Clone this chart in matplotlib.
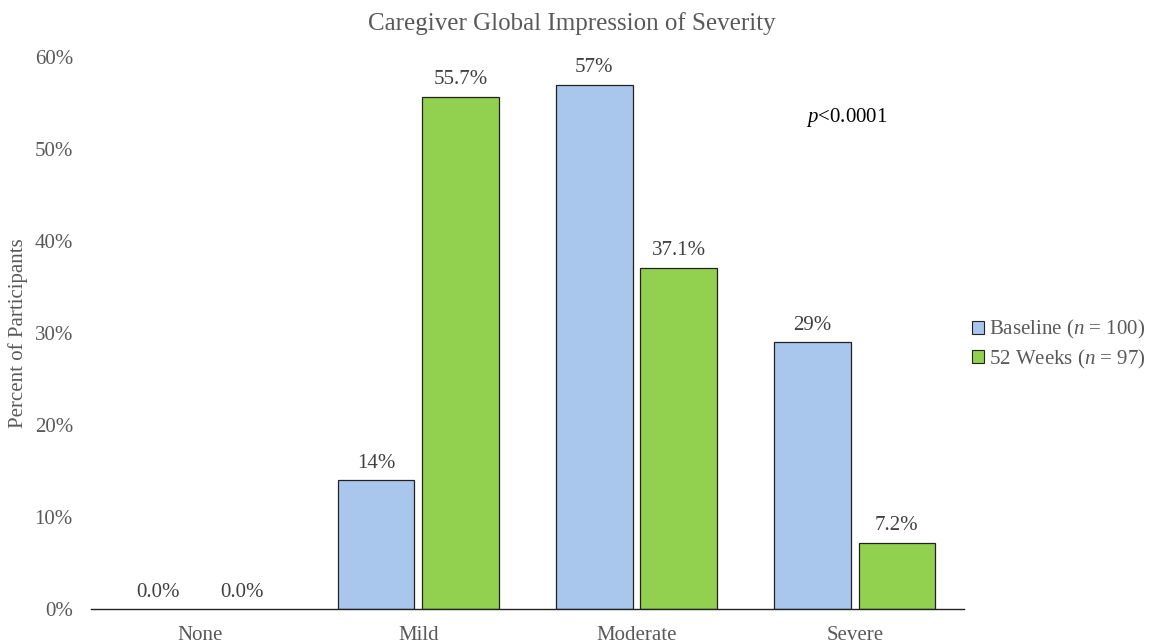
import matplotlib
matplotlib.use("Agg")
import matplotlib.pyplot as plt
import numpy as np
from matplotlib.patches import Patch

categories = ["None", "Mild", "Moderate", "Severe"]
baseline = [0.0, 14, 57, 29]
week52 = [0.0, 55.7, 37.1, 7.2]
baseline_labels = ["0.0%", "14%", "57%", "29%"]
week52_labels = ["0.0%", "55.7%", "37.1%", "7.2%"]
yticks = [0, 10, 20, 30, 40, 50, 60]

plt.rcParams['font.family'] = ['Liberation Serif', 'DejaVu Serif']
plt.rcParams['mathtext.fontset'] = 'custom'
plt.rcParams['mathtext.rm'] = 'Liberation Serif'
plt.rcParams['mathtext.it'] = 'Liberation Serif:italic'

fig = plt.figure(figsize=(11.5, 6.44), dpi=100)
ax = fig.add_axes([0.0791, 0.0543, 0.759, 0.857])

x = np.arange(len(categories))
w = 0.35
off = 0.193
blue = "#A9C6EC"
green = "#92D050"
edge = "#222222"
b1 = ax.bar(x - off, baseline, w, color=blue, edgecolor=edge,
            linewidth=[0 if v == 0 else 0.9 for v in baseline])
b2 = ax.bar(x + off, week52, w, color=green, edgecolor=edge,
            linewidth=[0 if v == 0 else 0.9 for v in week52])

lab_color = "#404040"
for xi, v, t in zip(x - off, baseline, baseline_labels):
    ax.text(xi, v + 0.8, t, ha="center", va="bottom", fontsize=15, color=lab_color)
for xi, v, t in zip(x + off, week52, week52_labels):
    ax.text(xi, v + 0.8, t, ha="center", va="bottom", fontsize=15, color=lab_color)

ax.set_xlim(-0.5, 3.5)
ax.set_ylim(0, 60)
ax.set_yticks(yticks)
ax.set_yticklabels([f"{t}%" for t in yticks])
ax.set_xticks(x)
ax.set_xticklabels(categories)
ax.tick_params(axis="both", length=0, labelsize=15, colors="#595959")
ax.tick_params(axis="x", pad=12)
ax.tick_params(axis="y", pad=13)
for s in ["left", "top", "right"]:
    ax.spines[s].set_visible(False)
ax.spines["bottom"].set_color(edge)
ax.spines["bottom"].set_linewidth(1.0)

ax.set_ylabel("Percent of Participants", fontsize=15, color="#595959", labelpad=5)
fig.text(0.497, 0.963, "Caregiver Global Impression of Severity", ha="center", va="center",
         fontsize=18, color="#595959")
ax.text(2.776, 53.4, "$p$<0.0001", fontsize=15, color="black", ha="left", va="center")

handles = [Patch(facecolor=blue, edgecolor=edge, linewidth=0.8),
           Patch(facecolor=green, edgecolor=edge, linewidth=0.8)]
labels = ["Baseline ($n$ = 100)", "52 Weeks ($n$ = 97)"]
leg = fig.legend(handles, labels, loc="center left", bbox_to_anchor=(0.845, 0.465),
                 frameon=False, fontsize=15, handlelength=0.6, handleheight=0.6,
                 handletextpad=0.25, labelspacing=0.3, borderaxespad=0, borderpad=0)
for t in leg.get_texts():
    t.set_color("#595959")

fig.savefig("out.png", dpi=100)
